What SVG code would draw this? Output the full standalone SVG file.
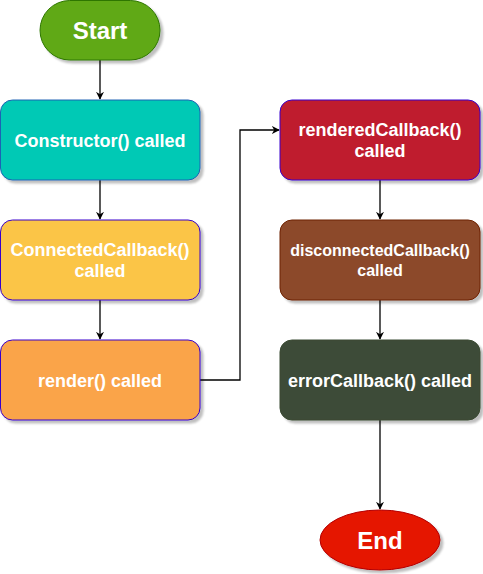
<svg xmlns="http://www.w3.org/2000/svg" width="483" height="574" viewBox="0 0 483 574">
<defs>
<filter id="sh" x="-10%" y="-10%" width="130%" height="140%">
<feOffset in="SourceAlpha" dx="3" dy="3" result="o"/>
<feGaussianBlur in="o" stdDeviation="0.8" result="b"/>
<feFlood flood-color="#000" flood-opacity="0.25"/>
<feComposite in2="b" operator="in" result="s"/>
<feMerge><feMergeNode in="s"/><feMergeNode in="SourceGraphic"/></feMerge>
</filter>
<marker id="ah" viewBox="0 0 10 10" refX="9" refY="5" markerWidth="8" markerHeight="8" markerUnits="userSpaceOnUse" orient="auto">
<path d="M0,0 L10,5 L0,10 L3,5 Z" fill="#000"/>
</marker>
</defs>
<style>
.t{font-family:"Liberation Sans",Arial,sans-serif;font-weight:bold;fill:#fff;text-anchor:middle}
.m{font-size:18px}
.s{font-size:16px}
.b{font-size:24px}
.c{fill:none;stroke:#000;stroke-width:1.3;marker-end:url(#ah)}
.n{stroke-width:1;filter:url(#sh)}
</style>
<g id="connectors">
<path class="c" d="M100,60 V99"/>
<path class="c" d="M100,180 V219"/>
<path class="c" d="M100,300 V339"/>
<path class="c" d="M200,380 H240 V130 H279"/>
<path class="c" d="M380,180 V219"/>
<path class="c" d="M380,300 V339"/>
<path class="c" d="M380,420 V509"/>
</g>
<g id="start">
<rect class="n" x="40" y="0.5" width="120" height="59.5" rx="29.75" fill="#60a917" stroke="#2d7600"/>
<text class="t b" x="100" y="38.5">Start</text>
</g>
<g id="constructor">
<rect class="n" x="0.5" y="100" width="199.5" height="80" rx="12" fill="#00c9b5" stroke="#1f62b4"/>
<text class="t m" x="100" y="146.5">Constructor() called</text>
</g>
<g id="connected">
<rect class="n" x="0.5" y="220" width="199.5" height="80" rx="12" fill="#fbc546" stroke="#3700cc"/>
<text class="t m" x="100" y="255.5">ConnectedCallback()</text>
<text class="t m" x="100" y="277">called</text>
</g>
<g id="render">
<rect class="n" x="0.5" y="340" width="199.5" height="80" rx="12" fill="#faa448" stroke="#3700cc"/>
<text class="t m" x="100" y="386.5">render() called</text>
</g>
<g id="rendered">
<rect class="n" x="280" y="100" width="200" height="80" rx="12" fill="#bf1f2f" stroke="#3700cc"/>
<text class="t m" x="380" y="135.5">renderedCallback()</text>
<text class="t m" x="380" y="157">called</text>
</g>
<g id="disconnected">
<rect class="n" x="280" y="220" width="200" height="80" rx="12" fill="#8c4a2a" stroke="#6d1f00"/>
<text class="t s" x="380" y="256">disconnectedCallback()</text>
<text class="t s" x="380" y="276">called</text>
</g>
<g id="error">
<rect class="n" x="280" y="340" width="200" height="80" rx="12" fill="#3e4b37" stroke="#3a4a33"/>
<text class="t m" x="380" y="386.5">errorCallback() called</text>
</g>
<g id="end">
<ellipse class="n" cx="380" cy="540" rx="60" ry="30" fill="#e51400" stroke="#b20000"/>
<text class="t b" x="380" y="548.5">End</text>
</g>
</svg>
